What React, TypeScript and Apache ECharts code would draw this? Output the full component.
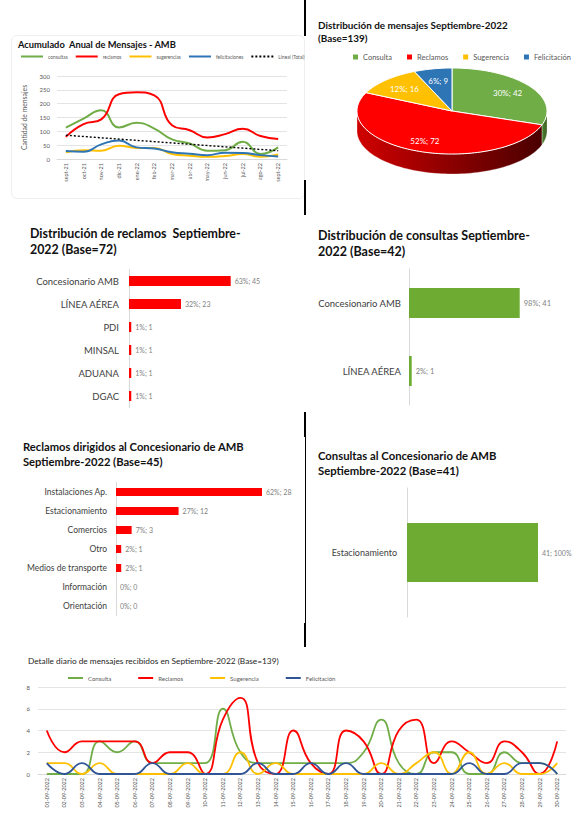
import React, { useEffect, useRef } from "react";
import * as echarts from "echarts";

const FONT = "Lato, 'Open Sans', sans-serif";
const GREEN = "#70ad47";
const RED = "#ff0000";
const YELLOW = "#ffc000";
const BLUE = "#2e75b6";
const GRID = "#d9d9d9";
const LABEL = "#595959";

// ---------- Panel 1: Acumulado anual ----------
const months = ["sept-21", "oct-21", "nov-21", "dic-21", "ene-22", "feb-22", "mar-22", "abr-22", "may-22", "jun-22", "jul-22", "ago-22", "sept-22"];
const consultasAnual = [113, 146, 176, 114, 131, 110, 71, 56, 30, 32, 62, 18, 42];
const reclamosAnual = [80, 126, 143, 234, 241, 230, 122, 104, 78, 90, 109, 83, 72];
const sugerenciasAnual = [24, 32, 30, 48, 40, 40, 18, 12, 8, 11, 18, 8, 16];
const felicitacionesAnual = [29, 26, 53, 67, 42, 38, 24, 19, 14, 23, 22, 14, 9];
const tendenciaAnual = [86, null, null, null, null, null, null, null, null, null, null, null, 30];
const anualNames = ["consultas", "reclamos", "sugerencias", "felicitaciones", "Lineal (Total)"];

// ---------- Panel 2: Pie ----------
const pieNames = ["Consulta", "Reclamos", "Sugerencia", "Felicitación"];
const pieValues = [42, 72, 16, 9];
const piePct = [30, 52, 12, 6];
const pieColors = [GREEN, RED, YELLOW, BLUE];
const pieSideLight = ["#4f8030", "#d00000", "#c99700", "#235d93"];
const pieSideDark = ["#3a6022", "#4a0000", "#8a6800", "#163f66"];

// ---------- Panel 3: Distribución de reclamos ----------
const reclamosCats = ["Concesionario AMB", "LÍNEA AÉREA", "PDI", "MINSAL", "ADUANA", "DGAC"];
const reclamosVals = [45, 23, 1, 1, 1, 1];
const reclamosPct = [63, 32, 1, 1, 1, 1];

// ---------- Panel 4: Distribución de consultas ----------
const consultasCats = ["Concesionario AMB", "LÍNEA AÉREA"];
const consultasVals = [41, 1];
const consultasPct = [98, 2];

// ---------- Panel 5: Reclamos al Concesionario ----------
const recConcCats = ["Instalaciones Ap.", "Estacionamiento", "Comercios", "Otro", "Medios de transporte", "Información", "Orientación"];
const recConcVals = [28, 12, 3, 1, 1, 0, 0];
const recConcPct = [62, 27, 7, 2, 2, 0, 0];

// ---------- Panel 6: Consultas al Concesionario ----------
const conConcCats = ["Estacionamiento"];
const conConcVals = [41];
const conConcPct = [100];

// ---------- Panel 7: Detalle diario ----------
const days = ["01-09-2022", "02-09-2022", "03-09-2022", "04-09-2022", "05-09-2022", "06-09-2022", "07-09-2022", "08-09-2022", "09-09-2022", "10-09-2022",
  "11-09-2022", "12-09-2022", "13-09-2022", "14-09-2022", "15-09-2022", "16-09-2022", "17-09-2022", "18-09-2022", "19-09-2022", "20-09-2022",
  "21-09-2022", "22-09-2022", "23-09-2022", "24-09-2022", "25-09-2022", "26-09-2022", "27-09-2022", "28-09-2022", "29-09-2022", "30-09-2022"];
const consultaDiaria = [0, 0, 0, 3, 2, 3, 1, 1, 1, 1, 6, 2, 1, 1, 1, 1, 1, 1, 2, 5, 1, 0, 2, 2, 0, 0, 2, 1, 1, 0];
const reclamosDiaria = [4, 2, 3, 3, 3, 3, 1, 2, 2, 0, 5, 7, 1, 0, 4, 1, 0, 4, 3, 0, 4, 5, 1, 3, 2, 1, 3, 2, 0, 3];
const sugerenciaDiaria = [1, 1, 0, 1, 0, 0, 0, 0, 1, 0, 0, 2, 0, 1, 0, 0, 0, 0, 0, 1, 0, 1, 2, 0, 2, 0, 1, 0, 0, 1];
const felicitacionDiaria = [1, 0, 1, 0, 0, 0, 1, 0, 0, 0, 0, 0, 1, 0, 0, 1, 0, 1, 0, 0, 0, 0, 0, 0, 1, 0, 0, 1, 1, 0];
const dailyNames = ["Consulta", "Reclamos", "Sugerencia", "Felicitación"];

const W = 574;
const H = 817;

function titleOpt(text: string, left: number, top: number, fontSize: number, lineHeight: number, weight: any = "bold", color = "#111") {
  return { text, left, top, padding: 0, textStyle: { fontFamily: FONT, fontSize, fontWeight: weight, color, lineHeight } };
}

// Panel 1 option
const opt1: any = {
  animation: false,
  textStyle: { fontFamily: FONT },
  title: titleOpt("Acumulado  Anual de Mensajes - AMB", 18, 38, 9.3, 12),
  legend: {
    left: 20, top: 54, itemWidth: 22, itemHeight: 2, itemGap: 7, padding: 0,
    itemStyle: { opacity: 0 },
    textStyle: { fontSize: 4.8, color: LABEL, fontFamily: FONT },
    data: anualNames,
  },
  grid: { left: 57, right: W - 287, top: 76, bottom: H - 159 },
  xAxis: {
    type: "category", data: months, boundaryGap: true,
    axisLine: { lineStyle: { color: GRID } }, axisTick: { show: false },
    axisLabel: { rotate: 90, fontSize: 5.5, color: LABEL, margin: 4, interval: 0 },
  },
  yAxis: {
    type: "value", min: 0, max: 300, interval: 50,
    name: "Cantidad de mensajes", nameLocation: "middle", nameRotate: 90, nameGap: 30,
    nameTextStyle: { fontSize: 6.8, color: LABEL, fontFamily: FONT },
    axisLine: { show: false }, axisTick: { show: false },
    axisLabel: { fontSize: 6, color: LABEL, margin: 7 },
    splitLine: { lineStyle: { color: GRID, width: 0.7 } },
  },
  series: [
    { name: anualNames[0], type: "line", smooth: true, symbol: "none", data: consultasAnual, lineStyle: { color: GREEN, width: 2 }, itemStyle: { color: GREEN } },
    { name: anualNames[1], type: "line", smooth: true, symbol: "none", data: reclamosAnual, lineStyle: { color: RED, width: 2 }, itemStyle: { color: RED } },
    { name: anualNames[2], type: "line", smooth: true, symbol: "none", data: sugerenciasAnual, lineStyle: { color: YELLOW, width: 2 }, itemStyle: { color: YELLOW } },
    { name: anualNames[3], type: "line", smooth: true, symbol: "none", data: felicitacionesAnual, lineStyle: { color: BLUE, width: 2 }, itemStyle: { color: BLUE } },
    { name: anualNames[4], type: "line", symbol: "none", connectNulls: true, data: tendenciaAnual, lineStyle: { color: "#000", width: 1.4, type: [2, 2] }, itemStyle: { color: "#000" } },
  ],
};

// Panel 2: 3D pie via custom series
const PIE = { cx: 452, cy: 111, rx: 95, ry: 43, depth: 20 };
const pieTotal = pieValues.reduce((a, b) => a + b, 0);
const pieStarts: number[] = [];
{
  let acc = 0;
  pieValues.forEach((v) => { pieStarts.push(acc); acc += v; });
}
function piePt(t: number, dy: number) {
  return [PIE.cx + PIE.rx * Math.sin(t), PIE.cy - PIE.ry * Math.cos(t) + dy];
}
function arcPts(a: number, b: number, dy: number) {
  const n = Math.max(2, Math.ceil((b - a) / (Math.PI / 90)));
  const pts: number[][] = [];
  for (let i = 0; i <= n; i++) pts.push(piePt(a + ((b - a) * i) / n, dy));
  return pts;
}

const opt2: any = {
  animation: false,
  textStyle: { fontFamily: FONT },
  title: titleOpt("Distribución de mensajes Septiembre-2022\n(Base=139)", 318, 18, 9.9, 13.5),
  legend: {
    left: 353, top: 53, icon: "rect", itemWidth: 5, itemHeight: 5, itemGap: 15, padding: 0,
    textStyle: { fontSize: 7.5, color: LABEL, fontFamily: FONT },
    data: pieNames,
  },
  series: pieNames.map((name, i) => ({
    type: "custom",
    name,
    coordinateSystem: "none",
    itemStyle: { color: pieColors[i] },
    data: [[pieStarts[i], pieValues[i], piePct[i]]],
    renderItem: (params: any, api: any) => {
      const a0 = (api.value(0) / pieTotal) * Math.PI * 2;
      const a1 = ((api.value(0) + api.value(1)) / pieTotal) * Math.PI * 2;
      const children: any[] = [];
      const s0 = Math.max(a0, Math.PI / 2);
      const s1 = Math.min(a1, (Math.PI * 3) / 2);
      if (s1 > s0) {
        const top = arcPts(s0, s1, 0);
        const bot = arcPts(s0, s1, PIE.depth).reverse();
        children.push({
          type: "polygon",
          shape: { points: top.concat(bot) },
          style: {
            fill: new echarts.graphic.LinearGradient(0, 0, 1, 0, [
              { offset: 0, color: pieSideLight[i] },
              { offset: 1, color: pieSideDark[i] },
            ]),
            stroke: "rgba(255,255,255,0.6)",
            lineWidth: 0.5,
          },
        });
      }
      children.push({
        type: "polygon",
        shape: { points: [[PIE.cx, PIE.cy]].concat(arcPts(a0, a1, 0)) },
        style: { fill: pieColors[i], stroke: "#ffffff", lineWidth: 1 },
      });
      const m = (a0 + a1) / 2;
      const f = i === 1 ? 0.76 : 0.72;
      children.push({
        type: "text",
        x: PIE.cx + PIE.rx * f * Math.sin(m),
        y: PIE.cy - PIE.ry * f * Math.cos(m),
        style: {
          text: `${api.value(2)}%; ${api.value(1)}`,
          fill: "#ffffff", fontSize: 8, fontFamily: FONT, align: "center", verticalAlign: "middle",
        },
      });
      return { type: "group", children };
    },
  })),
};

function barOpt(cfg: {
  title: string; tLeft: number; tTop: number; tSize: number; tLh: number;
  cats: string[]; vals: number[]; pct: number[]; color: string;
  left: number; top: number; height: number; width: number; max: number; barWidth: number;
  catSize: number; catMargin: number; valSize: number; fmt: (v: number, p: number) => string;
}): any {
  return {
    animation: false,
    textStyle: { fontFamily: FONT },
    title: titleOpt(cfg.title, cfg.tLeft, cfg.tTop, cfg.tSize, cfg.tLh),
    grid: { left: cfg.left, top: cfg.top, height: cfg.height, width: cfg.width },
    xAxis: { type: "value", min: 0, max: cfg.max, show: false },
    yAxis: {
      type: "category", data: cfg.cats, inverse: true,
      axisLine: { lineStyle: { color: GRID, width: 1 } }, axisTick: { show: false },
      axisLabel: { fontSize: cfg.catSize, color: "#404040", margin: cfg.catMargin },
    },
    series: [{
      type: "bar", data: cfg.vals, barWidth: cfg.barWidth,
      itemStyle: { color: cfg.color },
      label: {
        show: true, position: "right", distance: 4, fontSize: cfg.valSize, color: "#7f7f7f",
        formatter: (p: any) => cfg.fmt(p.value, cfg.pct[p.dataIndex]),
      },
    }],
  };
}

const opt3 = barOpt({
  title: "Distribución de reclamos  Septiembre-\n2022 (Base=72)", tLeft: 30, tTop: 226, tSize: 12.4, tLh: 15.5,
  cats: reclamosCats, vals: reclamosVals, pct: reclamosPct, color: RED,
  left: 129, top: 269.5, height: 138, width: 113, max: 50, barWidth: 10,
  catSize: 9.5, catMargin: 10, valSize: 7, fmt: (v, p) => `${p}%; ${v}`,
});
const opt4 = barOpt({
  title: "Distribución de consultas Septiembre-\n2022 (Base=42)", tLeft: 318, tTop: 227, tSize: 12.5, tLh: 16,
  cats: consultasCats, vals: consultasVals, pct: consultasPct, color: "#6dab33",
  left: 409, top: 269, height: 136, width: 135, max: 50, barWidth: 30,
  catSize: 9.5, catMargin: 8, valSize: 7.5, fmt: (v, p) => `${p}%; ${v}`,
});
const opt5 = barOpt({
  title: "Reclamos dirigidos al Concesionario de AMB\nSeptiembre-2022 (Base=45)", tLeft: 23, tTop: 438.5, tSize: 11.2, tLh: 15,
  cats: recConcCats, vals: recConcVals, pct: recConcPct, color: RED,
  left: 116, top: 482.5, height: 133, width: 146, max: 28, barWidth: 8,
  catSize: 8.5, catMargin: 9, valSize: 7, fmt: (v, p) => `${p}%; ${v}`,
});
const opt6 = barOpt({
  title: "Consultas al Concesionario de AMB\nSeptiembre-2022 (Base=41)", tLeft: 318, tTop: 447.5, tSize: 11.3, tLh: 15,
  cats: conConcCats, vals: conConcVals, pct: conConcPct, color: "#6dab33",
  left: 407, top: 488, height: 129, width: 131, max: 41, barWidth: 59,
  catSize: 9, catMargin: 10, valSize: 7, fmt: (v, p) => `${v}; ${p}%`,
});

const dailyColors = [GREEN, RED, YELLOW, "#2f5597"];
const dailyData = [consultaDiaria, reclamosDiaria, sugerenciaDiaria, felicitacionDiaria];
const opt7: any = {
  animation: false,
  textStyle: { fontFamily: FONT },
  title: titleOpt("Detalle diario de mensajes recibidos en Septiembre-2022 (Base=139)", 28, 656, 8.3, 10, "normal", "#262626"),
  legend: {
    left: 67, top: 675, itemWidth: 15, itemHeight: 2, itemGap: 26, padding: 0,
    itemStyle: { opacity: 0 },
    textStyle: { fontSize: 6, color: LABEL, fontFamily: FONT },
    data: dailyNames,
  },
  grid: { left: 38, right: W - 566, top: 687, bottom: H - 774 },
  xAxis: {
    type: "category", data: days, boundaryGap: true,
    axisLine: { lineStyle: { color: GRID } }, axisTick: { show: false },
    axisLabel: { rotate: 90, fontSize: 5.5, color: LABEL, margin: 4, interval: 0 },
  },
  yAxis: {
    type: "value", min: 0, max: 8, interval: 2,
    axisLine: { show: false }, axisTick: { show: false },
    axisLabel: { fontSize: 6, color: LABEL, margin: 8 },
    splitLine: { lineStyle: { color: GRID, width: 0.7 } },
  },
  series: dailyNames.map((name, i) => ({
    name, type: "line", smooth: true, symbol: "none", data: dailyData[i],
    lineStyle: { color: dailyColors[i], width: 1.8 }, itemStyle: { color: dailyColors[i] },
  })),
};

function Chart({ option }: { option: any }) {
  const ref = useRef<HTMLDivElement>(null);
  useEffect(() => {
    const c = echarts.init(ref.current!, null, { renderer: "svg" });
    c.setOption(option);
    return () => c.dispose();
  }, [option]);
  return <div ref={ref} style={{ position: "absolute", left: 0, top: 0, width: W, height: H }} />;
}

const bar = (left: number, top: number, width: number, height: number) => (
  <div style={{ position: "absolute", left, top, width, height, background: "#000" }} />
);

export default function App() {
  return (
    <div style={{ position: "fixed", left: 0, top: 0, width: W, height: H, background: "#fff", overflow: "hidden" }}>
      <div style={{ position: "absolute", left: 11, top: 35, width: 292, height: 162, border: "1px solid #efefef", borderRadius: 6 }} />
      {bar(304, 0, 2, 36)}
      {bar(304, 180, 2, 35)}
      {bar(304, 412, 2, 25)}
      {bar(304.5, 437, 1, 186)}
      {bar(304, 623, 2, 24)}
      <Chart option={opt1} />
      <Chart option={opt2} />
      <Chart option={opt3} />
      <Chart option={opt4} />
      <Chart option={opt5} />
      <Chart option={opt6} />
      <Chart option={opt7} />
    </div>
  );
}
